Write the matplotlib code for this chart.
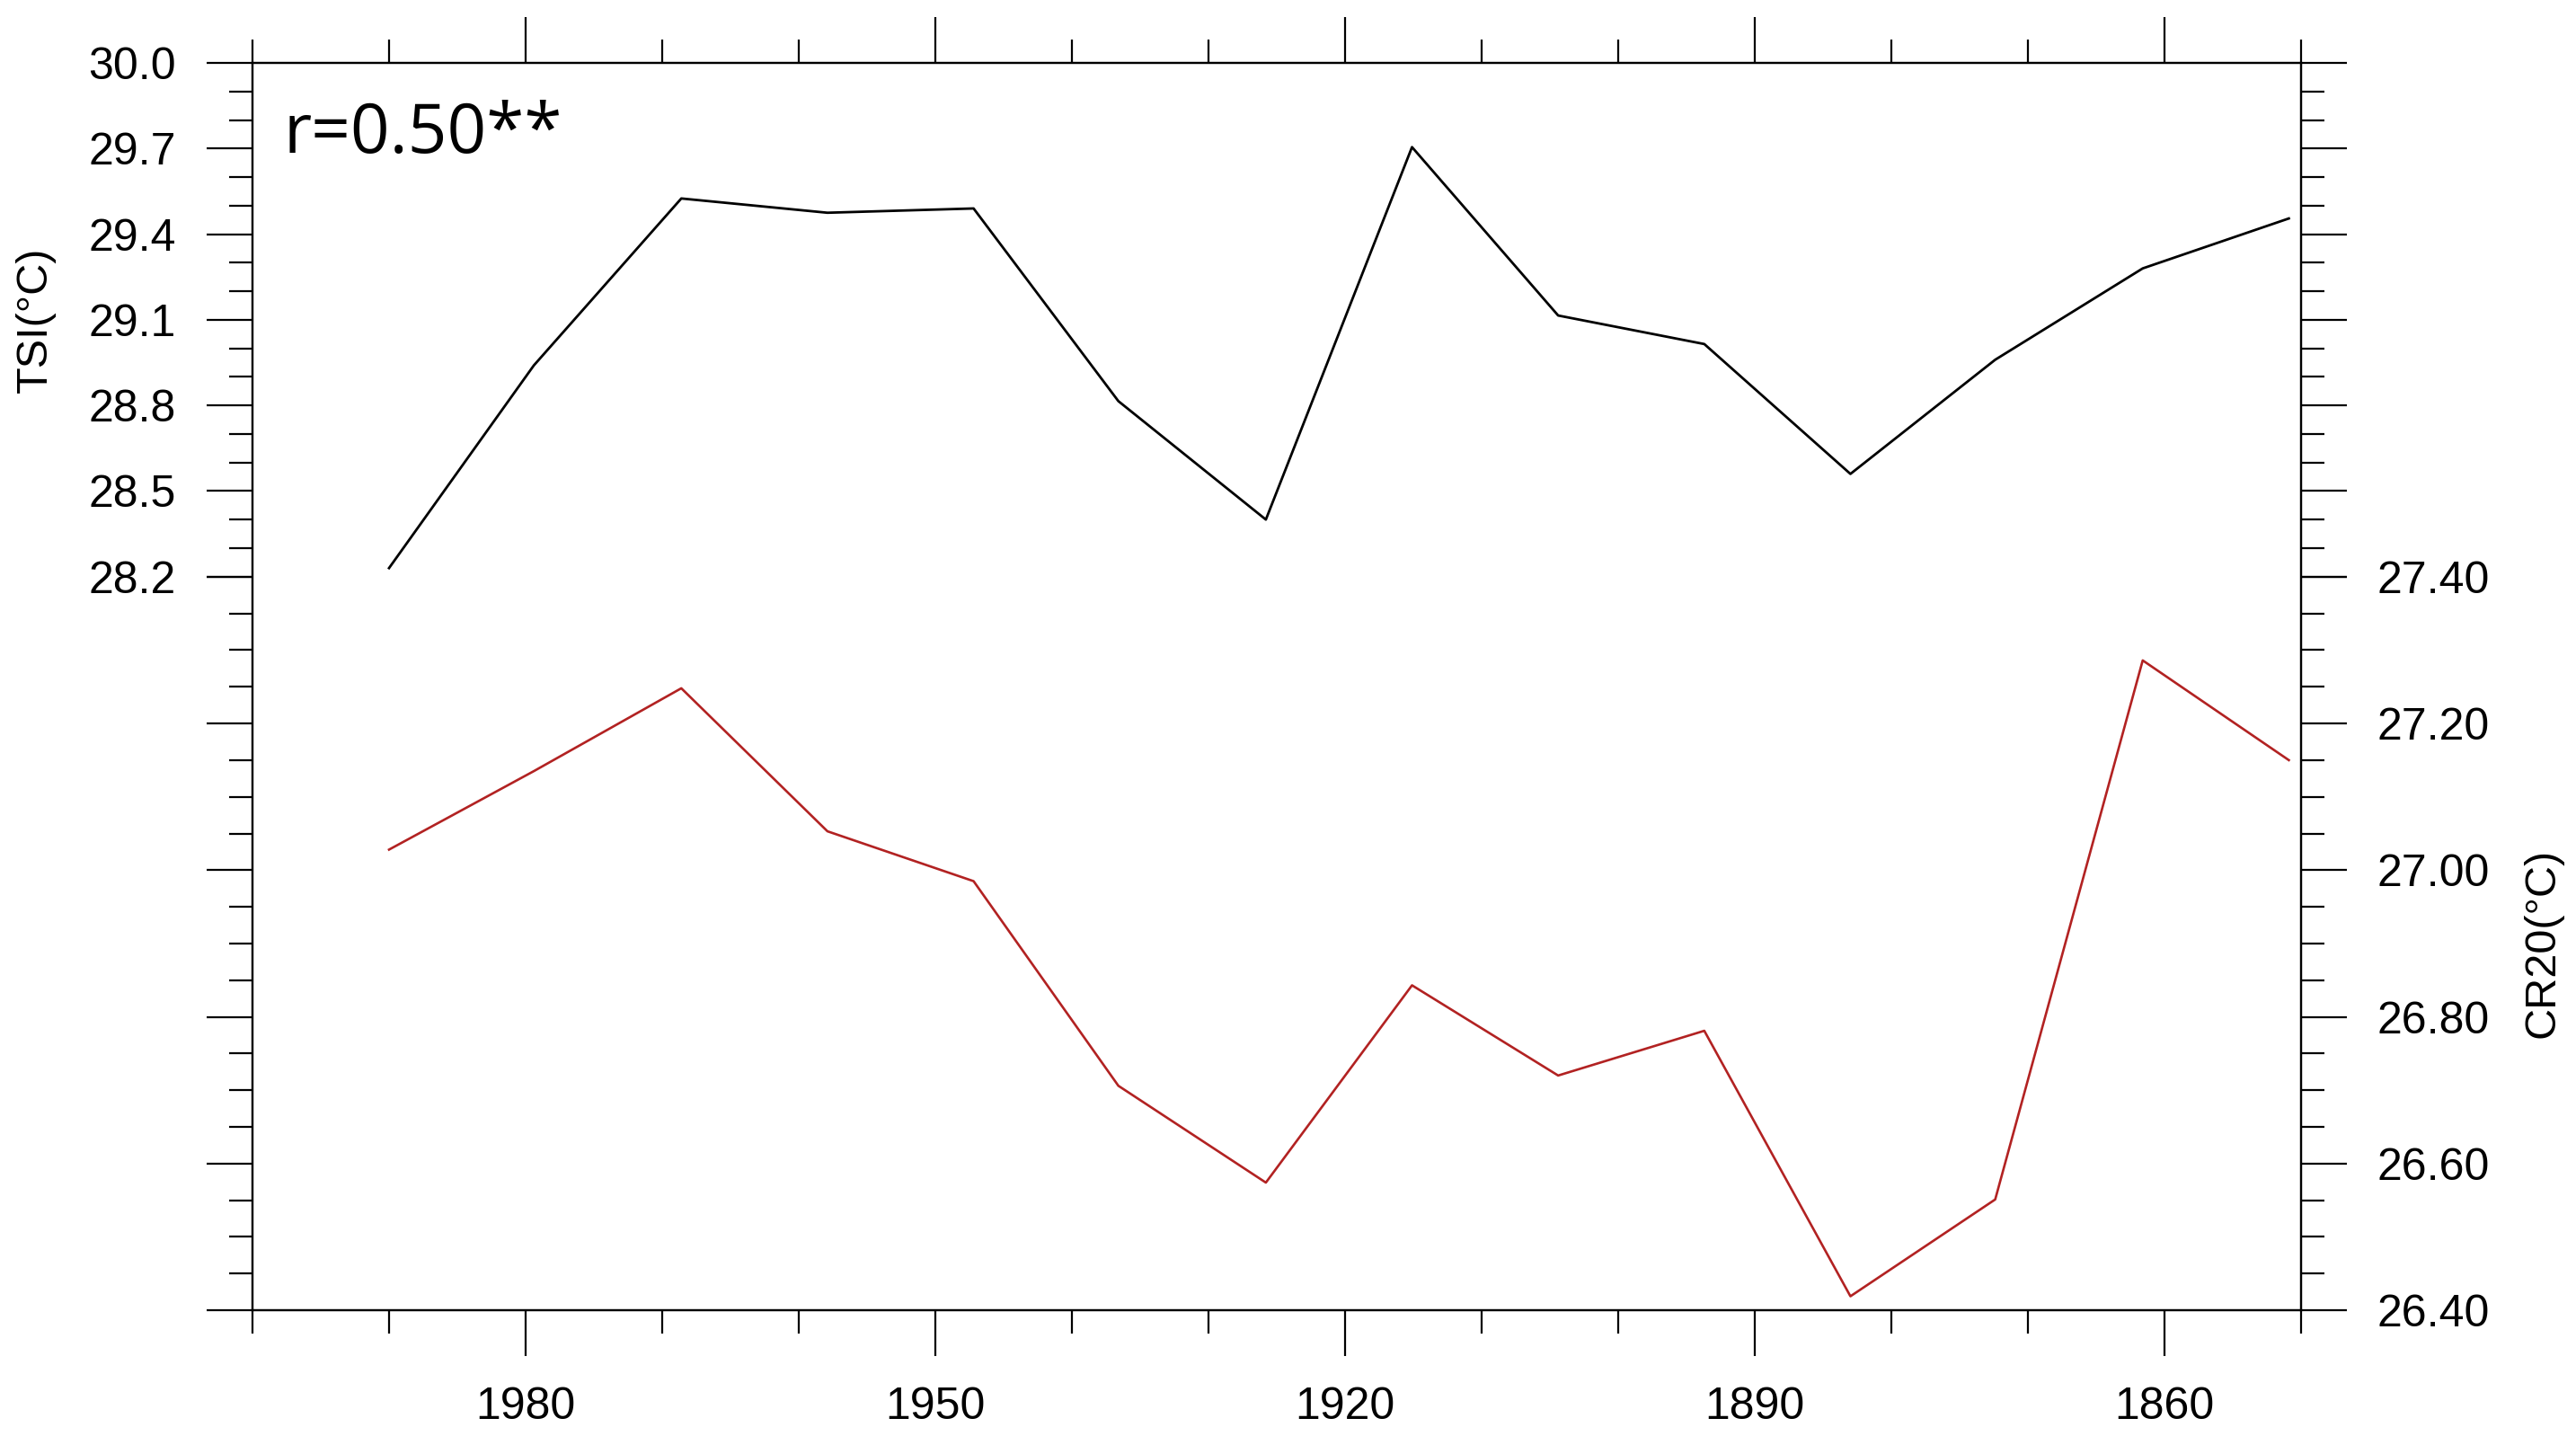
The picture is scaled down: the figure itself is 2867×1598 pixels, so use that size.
import matplotlib
matplotlib.use("Agg")
import matplotlib.pyplot as plt
import numpy as np

years = [1990.0, 1979.4, 1968.6, 1957.9, 1947.2, 1936.6, 1925.8,
         1915.1, 1904.4, 1893.7, 1883.0, 1872.4, 1861.6, 1850.9]
tsi = [28.23, 28.94, 29.525, 29.475, 29.49, 28.815, 28.40,
       29.705, 29.115, 29.015, 28.56, 28.96, 29.28, 29.455]
cr20 = [27.028, 27.135, 27.248, 27.053, 26.985, 26.706, 26.574,
        26.843, 26.72, 26.781, 26.419, 26.551, 27.286, 27.15]

x_major = [1980, 1950, 1920, 1890, 1860]
x_minor = [2000, 1990, 1970, 1960, 1940, 1930, 1910, 1900, 1880, 1870, 1850]
tsi_ticks = [28.2, 28.5, 28.8, 29.1, 29.4, 29.7, 30.0]
cr20_ticks = [26.4, 26.6, 26.8, 27.0, 27.2, 27.4]

plt.rcParams['font.family'] = ['Liberation Sans', 'DejaVu Sans']

fig = plt.figure(figsize=(28.67, 15.98), dpi=100)
ax = fig.add_axes([0.098, 0.0876, 0.7953, 0.8686])
ax2 = ax.twinx()

ax.plot(years, tsi, color='black', linewidth=2.0)
ax2.plot(years, cr20, color='#b22222', linewidth=1.9)

ax.set_xlim(2000, 1850)
ax.set_ylim(25.63, 30.0)
ax2.set_ylim(26.40, 28.1007)

ax.set_xticks(x_major)
ax.set_xticks(x_minor, minor=True)
ax.set_xticklabels([str(v) for v in x_major])

ax.set_yticks(tsi_ticks)
ax.set_yticks(np.round(np.arange(28.3, 30.0, 0.1), 2), minor=True)
ax.set_yticklabels(["%.1f" % v for v in tsi_ticks])

ax2.set_yticks(cr20_ticks)
ax2.set_yticks(np.round(np.arange(26.45, 27.4, 0.05), 2), minor=True)
ax2.set_yticklabels(["%.2f" % v for v in cr20_ticks])

for a in (ax, ax2):
    a.tick_params(which='major', direction='out', length=37, width=1.6,
                  labelsize=36, pad=24)
    a.tick_params(which='minor', direction='out', length=18.5, width=1.6)
    for s in a.spines.values():
        s.set_linewidth(1.6)

ax.tick_params(axis='x', which='both', top=True, bottom=True)
ax.tick_params(axis='y', which='both', left=True, right=True, labelright=False)
ax2.tick_params(axis='y', which='both', left=True, right=True, labelleft=False)

# axis titles sit in the middle of the labelled part of each axis
ax.set_ylabel("TSI(°C)", fontsize=35, va='center', ha='center')
ax.yaxis.set_label_coords(-0.106, 0.794)
ax2.set_ylabel("CR20(°C)", fontsize=35, va='center', ha='center')
ax2.yaxis.set_label_coords(1.118, 0.294)

ax.text(0.015, 0.928, "r=0.50**", transform=ax.transAxes, fontsize=55,
        family='Open Sans', va='baseline', ha='left')

plt.savefig("out.png", dpi=100)
plt.close()
